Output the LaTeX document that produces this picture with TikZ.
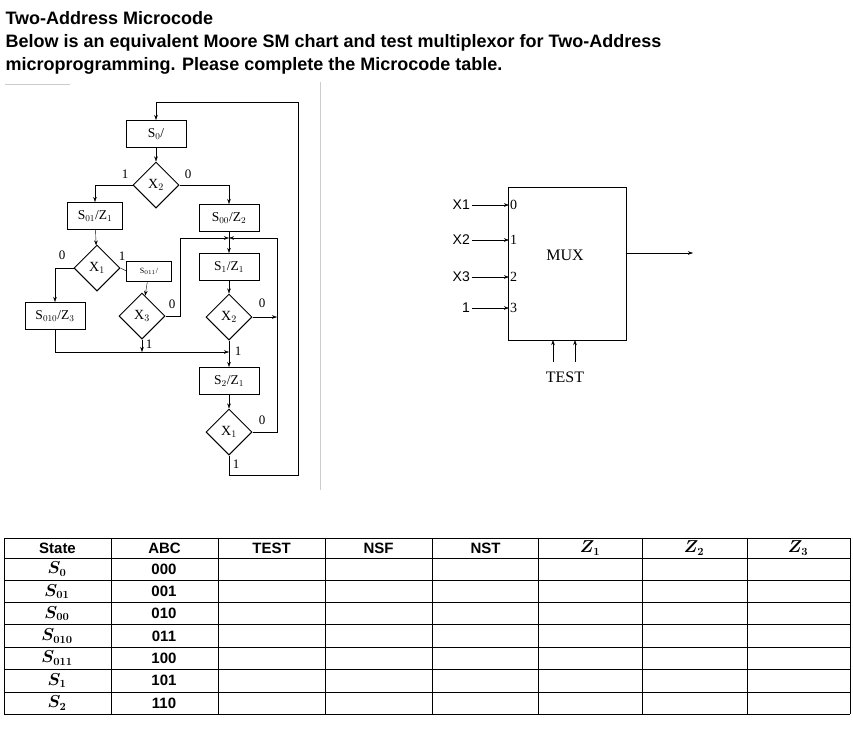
\documentclass[tikz,border=0pt]{standalone}
\usepackage{fontspec}
\setmainfont{Liberation Serif}
\newfontfamily\hdfont{Liberation Sans}
\usepackage{amsmath}
\usetikzlibrary{shapes.geometric,arrows.meta}
\tikzset{>=Stealth}
\tikzset{
  stbox/.style={draw, line width=1pt, minimum width=60pt, minimum height=27pt, inner sep=1pt, font=\fontsize{13.5}{14}\selectfont},
  test/.style={draw, diamond, line width=1pt, minimum width=46pt, minimum height=46pt, inner sep=0pt, font=\fontsize{14}{14}\selectfont},
  lbl/.style={font=\fontsize{13}{13}\selectfont},
  flow/.style={draw, thin, ->, >={Stealth[length=5pt,width=3.5pt]}},
  cell/.style={font=\hdfont\bfseries\fontsize{15}{16}\selectfont}
}
\begin{document}
\begin{tikzpicture}[x=1pt,y=-1pt]
    \useasboundingbox (0,0) rectangle (853,737);

    % heading
    \node[anchor=west, font=\hdfont\bfseries\fontsize{18}{20}\selectfont] (h1) at (2,18) {Two-Address Microcode};
    \node[anchor=west, font=\hdfont\bfseries\fontsize{18}{20}\selectfont] (h2) at (2,43) {Below is an equivalent Moore SM chart and test multiplexor for Two-Address};
    \node[anchor=west, font=\hdfont\bfseries\fontsize{18}{20}\selectfont] (h3) at (2,66) {microprogramming. Please complete the Microcode table.};
    \draw[gray!40] (5,84) -- (70,84);
    \draw[gray!40] (320,82) -- (320,490);

    % SM chart
    \node[stbox] (s0) at (156,134) {S$_0$/};
    \node[test] (t2a) at (156,185) {X$_2$};
    \node[stbox, minimum width=55pt] (s01) at (95,216) {S$_{01}$/Z$_1$};
    \node[stbox] (s00) at (229,218) {S$_{00}$/Z$_2$};
    \node[test] (t1a) at (97,268) {X$_1$};
    \node[draw, thin, minimum width=45pt, minimum height=20pt, inner sep=0pt, font=\fontsize{8}{8}\selectfont] (s011) at (149,271) {S$_{011}$/};
    \node[stbox] (s010) at (55,316) {S$_{010}$/Z$_3$};
    \node[test] (t3) at (142,316) {X$_3$};
    \node[stbox] (s1) at (229,267) {S$_1$/Z$_1$};
    \node[test] (t2b) at (229,317) {X$_2$};
    \node[stbox] (s2) at (229,381) {S$_2$/Z$_1$};
    \node[test] (t1b) at (229,432) {X$_1$};

    \coordinate (jn) at (229,238);
    \coordinate (jm) at (229,352);
    \coordinate (rl) at (277,238);

    \draw[flow] (s0) -- (t2a);
    \draw[flow] (t2a.west) -| (s01.north);
    \draw[flow] (t2a.east) -| (s00.north);
    \draw[flow] (s01) -- (t1a);
    \draw[flow] (t1a.west) -| (s010.north);
    \draw[thin] (t1a.east) -- (s011.west);
    \draw[flow] (s011) -- (t3);
    \draw[thin] (s00) -- (jn);
    \draw[flow] (t3.east) -- (180,316) |- (jn);
    \draw[flow] (rl) -- (jn);
    \draw[flow] (jn) -- (s1);
    \draw[flow] (s1) -- (t2b);
    \draw[flow] (t2b.east) -- (277,317);
    \draw[thin] (t1b.east) -| (rl);
    \draw[flow] (t3.south) -- (142,352);
    \draw[flow] (s010.south) |- (jm);
    \draw[thin] (t2b.south) -- (jm);
    \draw[flow] (jm) -- (s2);
    \draw[flow] (s2) -- (t1b);
    \draw[flow] (t1b.south) -- (229,475) -| (298,102) -| (s0.north);

    \node[lbl] (l1) at (125,174) {1};
    \node[lbl] (l2) at (188,174) {0};
    \node[lbl] (l3) at (62,255) {0};
    \node[lbl] (l4) at (122,256) {1};
    \node[lbl] (l5) at (172,304) {0};
    \node[lbl] (l6) at (149,344) {1};
    \node[lbl] (l7) at (262,303) {0};
    \node[lbl] (l8) at (238,351) {1};
    \node[lbl] (l9) at (262,420) {0};
    \node[lbl] (l10) at (236,464) {1};

    % test multiplexor
    \node[draw, thin, minimum width=118pt, minimum height=153pt, inner sep=0pt] (mux) at (567,263.5) {};
    \node[font=\fontsize{16}{16}\selectfont] (mt) at (565,255) {MUX};
    \foreach \y/\n/\s [count=\i] in {205/0/X1, 240/1/X2, 277/2/X3, 308/3/1} {
        \node[font=\fontsize{14}{14}\selectfont, anchor=west, inner sep=1pt] (in\i) at (509,\y) {\n};
        \node[font=\hdfont\fontsize{14}{14}\selectfont, anchor=east, inner sep=2pt] (x\i) at (472,\y) {\s};
        \draw[flow] (x\i.east) -- (in\i.west);
    }
    \coordinate (out) at (693,253);
    \draw[flow] (mux.east |- out) -- (out);
    \node[font=\fontsize{16}{16}\selectfont] (tst) at (565,377) {TEST};
    \draw[flow] (553,362) -- (553,340);
    \draw[flow] (575,362) -- (575,340);

    % microcode table
    \foreach \x in {4,111,218,325,432,538,642,747,850}
        \draw (\x,538) -- (\x,714);
    \foreach \y in {538,558,580,602,624,647,669,692,714}
        \draw (4,\y) -- (850,\y);
    \foreach \t [count=\i] in {State,ABC,TEST,NSF,NST} {
        \node[cell] (hd\i) at ({4+107*(\i-0.5)},548) {\t};
    }
    \node[font=\bfseries\fontsize{16}{16}\selectfont] (hz1) at (590,548) {$\boldsymbol{Z_1}$};
    \node[font=\bfseries\fontsize{16}{16}\selectfont] (hz2) at (694,548) {$\boldsymbol{Z_2}$};
    \node[font=\bfseries\fontsize{16}{16}\selectfont] (hz3) at (798,548) {$\boldsymbol{Z_3}$};
    \foreach \s/\c [count=\i] in {0/000, 01/001, 00/010, 010/011, 011/100, 1/101, 2/110} {
        \node[font=\fontsize{16}{16}\selectfont] (st\i) at (57,{558+22.3*(\i-0.5)}) {$\boldsymbol{S_{\s}}$};
        \node[cell] (cd\i) at (164,{558+22.3*(\i-0.5)}) {\c};
    }
\end{tikzpicture}
\end{document}
